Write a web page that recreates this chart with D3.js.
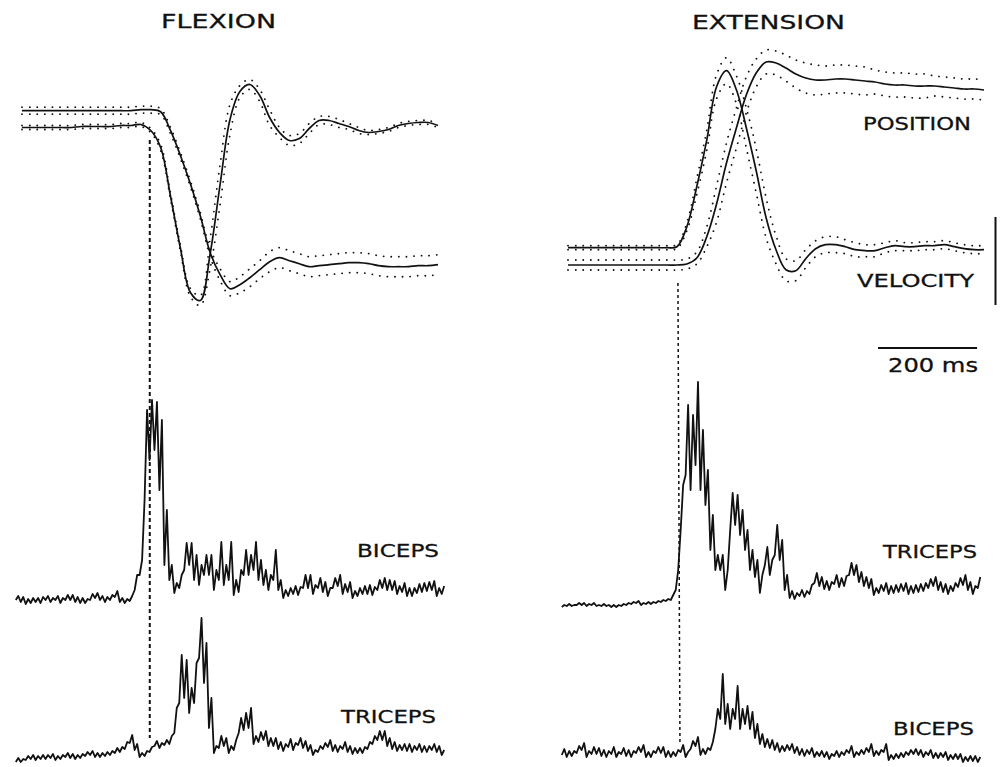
<!DOCTYPE html>
<html>
<head>
<meta charset="utf-8">
<script src="https://cdn.jsdelivr.net/npm/d3@7"></script>
<style>
body { margin: 0; background: #fff; }
text { font-family: "DejaVu Sans", sans-serif; fill: #111; stroke: #111; stroke-width: 0.3; }
</style>
</head>
<body>
<svg id="chart" width="1007" height="767"></svg>
<script>
// kinematics: mean traces (a.u., 0 = rest) sampled every 20 ms, with +-1 SD
const kinTime = d3.range(0, 841, 20);
const flexVelocity = [0,0,0,0,0,0,1,1,1,1,2,2,3,-3,-20,-69,-121,-165,-173,-126,-57,8,36,43,32,10,-5,-13,-11,-1,7,7,4,1,-3,-5,-4,-2,2,4,5,5,2];
const flexVelocitySd = [2,2,2,2,2,2,2,2,2,2,2,2,2,2,3,3,3,4,5,15,20,15,6,5,6,8,5,5,5,5,4,4,4,3,3,2,2,2,2,2,2,2,2];
const flexPosition = [0,0,0,0,0,0,0,0,0,0,0,0,1,1,-1,-20,-45,-73,-105,-142,-164,-178,-174,-167,-159,-151,-147,-150,-153,-156,-155,-154,-153,-152,-152,-153,-155,-156,-156,-156,-155,-155,-154];
const flexPositionSd = [3.5,3.5,3.5,3.5,3.5,3.5,3.5,3.5,3.5,3.5,3.5,3.5,3.5,3.5,3,3,3,3,3,4,6,7,8,9,9,10,10,10,10,10,10,10,10,10,10,10,10,10,10,10,10,10,10];
const extVelocity = [0,0,0,0,0,0,0,0,0,0,0,1,21,61,107,161,177,158,120,77,30,-2,-22,-23,-11,-1,3,3,1,-2,-3,-3,0,2,1,1,2,2,3,1,-1,-2,-2];
const extVelocitySd = [2,2,2,2,2,2,2,2,2,2,2,2,4,8,10,12,13,14,20,22,20,14,11,10,9,8,8,8,7,7,6,6,5,5,4,4,4,4,4,4,4,4,4];
const extPosition = [0,0,0,0,0,0,0,0,0,0,0,0,1,7,28,61,102,137,170,192,203,202,197,191,187,185,185,186,186,185,184,183,181,180,180,179,179,179,178,177,176,176,175];
const extPositionSd = [5,5,5,5,5,5,5,5,5,5,5,5,5,6,10,18,20,20,18,14,12,12,13,14,15,15,14,14,14,14,14,12,12,12,12,12,12,10,10,10,10,10,10];

// rectified EMG (a.u.): min and max of each 10 ms bin
const emgTimeFlex = d3.range(-10, 851, 10);
const emgTimeExt = d3.range(-10, 831, 10);
const flexBicepsLo = [0,-2,-4,-3,-2,-3,0,-2,0,-3,0,0,-2,-3,-3,0,2,0,-2,0,3,-2,-3,-1,10,25,100,140,150,110,35,20,7,12,30,35,20,15,25,25,10,20,15,20,5,8,25,25,30,20,15,10,20,10,2,4,6,5,12,12,6,12,8,4,12,14,6,8,2,4,6,6,5,10,12,10,10,6,8,4,4,7,8,9,10,4,6];
const flexBicepsHi = [4,3,1,2,2,3,4,2,4,2,5,5,3,2,1,6,7,4,3,5,9,2,1,4,25,40,190,200,198,180,90,35,17,25,57,57,45,35,45,45,30,58,35,58,20,30,50,45,58,40,30,25,50,20,10,12,14,13,25,25,15,22,18,12,22,25,16,18,9,12,14,15,13,20,22,20,19,14,17,12,12,16,17,18,19,12,14];
const flexTricepsLo = [-4,-4,-2,-1,-2,-1,-1,0,-2,-1,1,0,-1,0,2,3,1,1,2,3,5,6,9,15,8,1,2,6,12,10,13,14,25,55,60,45,55,100,75,30,5,10,12,5,8,25,28,30,14,16,18,12,12,9,7,11,8,13,10,7,3,6,9,11,7,6,9,6,4,5,5,9,14,18,18,12,9,7,8,7,6,8,6,6,8,6,3];
const flexTricepsHi = [0,-1,2,3,2,3,3,4,2,3,5,4,3,4,6,7,5,5,6,7,10,11,16,23,14,5,7,11,17,15,18,22,50,103,98,70,95,140,115,60,12,22,20,12,18,40,45,50,22,26,27,20,20,16,14,19,15,20,17,13,8,12,15,18,13,12,16,12,10,10,11,16,22,27,27,20,16,13,14,14,12,14,12,12,14,12,8];
const extTricepsLo = [-2,-1,-1,0,0,-1,0,-1,-1,-1,-2,-2,-1,0,1,2,0,1,1,2,3,4,5,15,75,130,115,140,115,100,55,35,35,15,75,80,70,55,35,28,12,40,30,50,45,15,7,6,9,8,11,22,19,16,15,21,18,19,30,30,23,19,17,10,12,14,11,12,13,14,11,12,13,14,17,19,15,13,11,14,18,20,15,11,17];
const extTricepsHi = [0,1,0,2,2,1,2,0,1,0,0,0,1,2,3,4,2,3,3,4,5,6,10,35,120,200,190,223,175,135,90,50,50,35,112,110,95,75,55,45,30,58,45,80,65,30,14,12,15,14,20,32,28,24,23,30,27,29,42,40,33,28,26,17,20,22,19,20,21,22,19,20,21,22,26,28,23,21,19,22,27,30,23,19,28];
const extBicepsLo = [-1,-3,-2,1,4,-3,0,0,-2,-3,0,-3,0,-2,-3,1,2,-3,-3,1,1,-3,-3,-2,2,-3,5,8,-1,0,4,25,35,30,25,35,25,30,25,16,10,7,6,4,2,3,4,1,-1,-2,0,-3,-2,-3,-5,-2,-3,-1,1,-3,-1,0,2,-2,-1,2,-6,-5,-4,-3,-1,0,-1,-3,-1,-4,-4,-3,-6,-5,-5,-8,-7,-7,-8];
const extBicepsHi = [5,3,3,8,11,3,7,6,4,3,7,2,6,4,3,7,9,2,3,7,7,3,2,4,9,2,13,17,5,6,12,45,80,50,45,68,45,48,42,30,20,15,14,11,8,9,10,7,5,4,6,2,3,2,0,3,2,4,8,2,4,6,10,3,4,10,-1,0,1,2,4,5,4,2,4,1,1,2,-1,0,0,-3,-2,-2,-3];

// movement onset (ms) and scale bar
const onsetFlex = 258;
const onsetExt = 222;
const scaleBarMs = 200;

const svg = d3.select('#chart');

// one time axis per column
const xFlex = d3.scaleLinear().domain([0, 840]).range([22, 438]);
const xExt = d3.scaleLinear().domain([0, 840]).range([568, 984]);

// a trace gets its own vertical offset, 1 unit = 1 px
function yScale(base) {
	return d3.scaleLinear().domain([0, 100]).range([base, base - 100]);
}

function drawKin(x, base, mean, sd) {
	const y = yScale(base);
	const line = d3.line()
		.x((d, i) => x(kinTime[i]))
		.y(d => y(d))
		.curve(d3.curveCatmullRom);
	const g = svg.append('g');
	[1, -1].forEach(s => {
		g.append('path')
			.attr('d', line(mean.map((v, i) => v + s * sd[i])))
			.attr('fill', 'none')
			.attr('stroke', '#111')
			.attr('stroke-width', 1.8)
			.attr('stroke-linecap', 'round')
			.attr('stroke-dasharray', '0.1,7.5');
	});
	g.append('path')
		.attr('d', line(mean))
		.attr('fill', 'none')
		.attr('stroke', '#111')
		.attr('stroke-width', 1.7);
}

// each bin drawn as its min then its max, like the pen trace
function drawEmg(x, time, base, lo, hi) {
	const y = yScale(base);
	const pts = [];
	time.forEach((t, i) => {
		pts.push([x(t - 2.5), y(lo[i])]);
		pts.push([x(t + 2.5), y(hi[i])]);
	});
	svg.append('path')
		.attr('d', d3.line()(pts))
		.attr('fill', 'none')
		.attr('stroke', '#111')
		.attr('stroke-width', 1.8)
		.attr('stroke-linejoin', 'round');
}

drawKin(xFlex, 110.7, flexPosition, flexPositionSd);
drawKin(xFlex, 127.5, flexVelocity, flexVelocitySd);
drawKin(xExt, 265, extPosition, extPositionSd);
drawKin(xExt, 247.7, extVelocity, extVelocitySd);

drawEmg(xFlex, emgTimeFlex, 600, flexBicepsLo, flexBicepsHi);
drawEmg(xFlex, emgTimeFlex, 758, flexTricepsLo, flexTricepsHi);
drawEmg(xExt, emgTimeExt, 605, extTricepsLo, extTricepsHi);
drawEmg(xExt, emgTimeExt, 754, extBicepsLo, extBicepsHi);

// onset markers
svg.append('line')
	.attr('x1', xFlex(onsetFlex)).attr('x2', xFlex(onsetFlex))
	.attr('y1', 140).attr('y2', 738)
	.attr('stroke', '#111').attr('stroke-width', 2)
	.attr('stroke-dasharray', '4,3');
svg.append('line')
	.attr('x1', xExt(onsetExt)).attr('x2', xExt(onsetExt) + 2)
	.attr('y1', 283).attr('y2', 742)
	.attr('stroke', '#111').attr('stroke-width', 1.5)
	.attr('stroke-dasharray', '3,3');

// scale bars
svg.append('line')
	.attr('x1', xExt(626)).attr('x2', xExt(626 + scaleBarMs))
	.attr('y1', 348).attr('y2', 348)
	.attr('stroke', '#111').attr('stroke-width', 2);
svg.append('line')
	.attr('x1', 995.5).attr('x2', 995.5)
	.attr('y1', 217).attr('y2', 305)
	.attr('stroke', '#111').attr('stroke-width', 2);

// text: [label, x, baseline, width, size]
const labels = [
	['FLEXION', 161, 28, 115, 20],
	['EXTENSION', 692, 29, 153, 20],
	['POSITION', 863, 130, 108, 18],
	['VELOCITY', 857, 287, 117, 18],
	[scaleBarMs + ' ms', 888, 372, 90, 19],
	['BICEPS', 357, 557, 82, 18],
	['TRICEPS', 341, 723, 95, 18],
	['TRICEPS', 883, 558, 94, 18],
	['BICEPS', 893, 735, 81, 18]
];
svg.selectAll('text.lbl')
	.data(labels)
	.enter()
	.append('text')
	.attr('class', 'lbl')
	.attr('x', d => d[1])
	.attr('y', d => d[2])
	.attr('textLength', d => d[3])
	.attr('lengthAdjust', 'spacingAndGlyphs')
	.attr('font-size', d => d[4])
	.text(d => d[0]);
</script>
</body>
</html>
